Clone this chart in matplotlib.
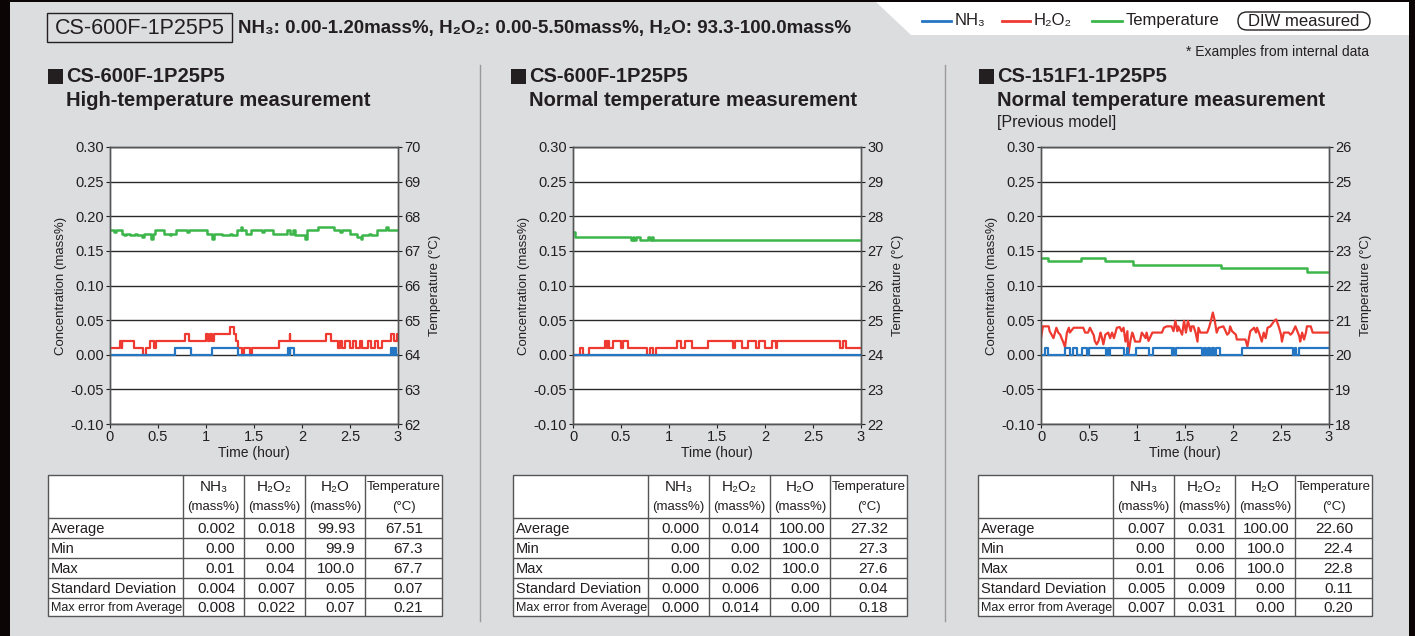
import matplotlib
matplotlib.use("Agg")
import matplotlib.pyplot as plt
from matplotlib.patches import Rectangle, FancyBboxPatch, Polygon
from matplotlib.lines import Line2D

plt.rcParams['font.family'] = ['Liberation Sans', 'DejaVu Sans']

W, H = 1415, 636

# ---------------- data ----------------
TITLES = ["CS-600F-1P25P5", "CS-600F-1P25P5", "CS-151F1-1P25P5"]
SUBTITLES = ["High-temperature measurement", "Normal temperature measurement",
             "Normal temperature measurement"]
NOTES = ["", "", "[Previous model]"]
TEMP_RANGES = [(62, 70), (22, 30), (18, 26)]
CONC_TICKS = [-0.10, -0.05, 0.00, 0.05, 0.10, 0.15, 0.20, 0.25, 0.30]
TIME_TICKS = [0, 0.5, 1, 1.5, 2, 2.5, 3]
TIME_LABELS = ["0", "0.5", "1", "1.5", "2", "2.5", "3"]

# chart 1 (high temperature)
c1_nh3_t = [0, 0.68, 0.845, 1.067, 1.33, 1.85, 1.87, 1.88, 1.92, 2.93, 2.95, 2.96, 2.98, 3.0]
c1_nh3_v = [0, 0.01, 0, 0.01, 0, 0.01, 0, 0.01, 0, 0.01, 0, 0.01, 0, 0]
c1_h2o2_t = [0, 0.10, 0.12, 0.13, 0.25, 0.34, 0.37, 0.42, 0.46, 0.48, 0.78, 0.82, 1.00, 1.02,
             1.04, 1.06, 1.08, 1.25, 1.29, 1.31, 1.33, 1.38, 1.40, 1.46, 1.48, 1.76, 1.87,
             1.88, 2.25, 2.30, 2.38, 2.40, 2.42, 2.45, 2.50, 2.53, 2.56, 2.60, 2.63, 2.69,
             2.72, 2.76, 2.79, 2.83, 2.93, 2.96, 2.99, 3.0]
c1_h2o2_v = [0.01, 0.02, 0.01, 0.02, 0.01, 0, 0.01, 0.02, 0.01, 0.02, 0.03, 0.02, 0.03, 0.02,
             0.03, 0.02, 0.03, 0.04, 0.03, 0.02, 0.01, 0, 0.01, 0, 0.01, 0.02, 0.03,
             0.02, 0.03, 0.02, 0.01, 0.02, 0.01, 0.02, 0.01, 0.02, 0.01, 0.02, 0.01, 0.02,
             0.01, 0.02, 0.01, 0.02, 0.03, 0.02, 0.03, 0.03]
c1_temp_t = [0, 0.04, 0.06, 0.12, 0.15, 0.17, 0.21, 0.26, 0.28, 0.33, 0.35, 0.43, 0.45, 0.47,
             0.56, 0.62, 0.64, 0.69, 0.80, 0.82, 1.01, 1.06, 1.08, 1.17, 1.25, 1.27, 1.32,
             1.36, 1.38, 1.42, 1.47, 1.58, 1.60, 1.70, 1.84, 1.87, 1.91, 1.93, 2.03, 2.05,
             2.17, 2.33, 2.40, 2.42, 2.50, 2.57, 2.61, 2.63, 2.70, 2.72, 2.78, 2.87, 2.90, 3.0]
c1_temp_v = [67.6, 67.55, 67.6, 67.5, 67.45, 67.5, 67.45, 67.5, 67.45, 67.4, 67.5, 67.35, 67.5,
             67.6, 67.5, 67.45, 67.5, 67.6, 67.55, 67.6, 67.5, 67.35, 67.5, 67.45, 67.5, 67.45,
             67.6, 67.7, 67.6, 67.5, 67.6, 67.55, 67.6, 67.5, 67.6, 67.5, 67.6, 67.45, 67.35,
             67.6, 67.7, 67.6, 67.55, 67.6, 67.5, 67.4, 67.35, 67.45, 67.5, 67.45, 67.6, 67.7,
             67.6, 67.6]

# chart 2 (normal temperature)
c2_nh3_t = [0, 3.0]
c2_nh3_v = [0, 0]
c2_h2o2_t = [0, 0.07, 0.10, 0.17, 0.33, 0.35, 0.36, 0.38, 0.42, 0.50, 0.52, 0.57, 0.77, 0.80,
             0.83, 0.86, 1.08, 1.12, 1.17, 1.24, 1.41, 1.67, 1.69, 1.76, 1.82, 1.91, 1.94,
             2.00, 2.07, 2.11, 2.12, 2.78, 2.81, 2.84, 3.0]
c2_h2o2_v = [0, 0.01, 0, 0.01, 0.02, 0.01, 0.02, 0.01, 0.02, 0.01, 0.02, 0.01, 0, 0.01,
             0, 0.01, 0.02, 0.01, 0.02, 0.01, 0.02, 0.01, 0.02, 0.01, 0.02, 0.01, 0.02,
             0.01, 0.02, 0.01, 0.02, 0.01, 0.02, 0.01, 0.01]
c2_temp_t = [0, 0.02, 0.60, 0.62, 0.64, 0.66, 0.70, 0.78, 0.80, 0.82, 0.83, 3.0]
c2_temp_v = [27.55, 27.4, 27.3, 27.4, 27.3, 27.4, 27.3, 27.4, 27.3, 27.4, 27.3, 27.3]

# chart 3 (previous model)
c3_nh3_t = [0, 0.04, 0.07, 0.25, 0.30, 0.33, 0.37, 0.43, 0.48, 0.50, 0.68, 0.70, 0.71, 0.72,
            0.86, 0.90, 0.91, 0.99, 1.12, 1.17, 1.36, 1.38, 1.39, 1.41, 1.68, 1.70, 1.72,
            1.74, 1.76, 1.78, 1.80, 1.82, 1.86, 2.09, 2.62, 2.65, 2.66, 2.69, 3.0]
c3_nh3_v = [0, 0.01, 0, 0.01, 0, 0.01, 0, 0.01, 0, 0.01, 0, 0.01, 0, 0.01,
            0, 0.01, 0, 0.01, 0, 0.01, 0, 0.01, 0, 0.01, 0, 0.01, 0,
            0.01, 0, 0.01, 0, 0.01, 0, 0.01, 0, 0.01, 0, 0.01, 0.01]
c3_h2o2_t = [0.00, 0.02, 0.08, 0.09, 0.13, 0.15, 0.16, 0.18, 0.20, 0.22, 0.23, 0.25, 0.27, 0.29,
             0.30, 0.34, 0.44, 0.46, 0.49, 0.51, 0.55, 0.56, 0.58, 0.60, 0.62, 0.63, 0.65, 0.67,
             0.70, 0.72, 0.74, 0.76, 0.79, 0.82, 0.84, 0.86, 0.88, 0.90, 0.91, 0.93, 0.95, 0.96,
             0.98, 1.03, 1.05, 1.09, 1.10, 1.12, 1.16, 1.26, 1.28, 1.31, 1.36, 1.38, 1.40, 1.42,
             1.43, 1.47, 1.49, 1.51, 1.53, 1.56, 1.57, 1.59, 1.61, 1.63, 1.64, 1.66, 1.73, 1.75,
             1.77, 1.79, 1.81, 1.83, 1.85, 1.90, 1.94, 1.96, 1.97, 1.99, 2.03, 2.04, 2.13, 2.15,
             2.18, 2.22, 2.24, 2.25, 2.27, 2.30, 2.32, 2.34, 2.36, 2.39, 2.43, 2.45, 2.48, 2.50,
             2.51, 2.53, 2.58, 2.60, 2.62, 2.65, 2.67, 2.69, 2.70, 2.72, 2.74, 2.76, 2.77, 2.81,
             2.83, 3.00]
c3_h2o2_v = [0.024, 0.041, 0.041, 0.034, 0.024, 0.034, 0.039, 0.032, 0.029, 0.022, 0.019, 0.011,
             0.032, 0.039, 0.032, 0.039, 0.039, 0.032, 0.032, 0.039, 0.028, 0.020, 0.015, 0.020,
             0.032, 0.027, 0.015, 0.029, 0.032, 0.024, 0.032, 0.024, 0.039, 0.040, 0.034, 0.039,
             0.019, 0.034, 0.000, 0.019, 0.032, 0.029, 0.019, 0.019, 0.032, 0.024, 0.032, 0.020,
             0.032, 0.032, 0.039, 0.041, 0.041, 0.034, 0.049, 0.034, 0.041, 0.029, 0.049, 0.032,
             0.049, 0.034, 0.041, 0.041, 0.032, 0.019, 0.039, 0.032, 0.032, 0.039, 0.049, 0.061,
             0.049, 0.032, 0.039, 0.041, 0.029, 0.032, 0.041, 0.034, 0.029, 0.022, 0.022, 0.012,
             0.034, 0.039, 0.032, 0.039, 0.032, 0.019, 0.032, 0.024, 0.039, 0.041, 0.049, 0.051,
             0.039, 0.029, 0.019, 0.032, 0.032, 0.029, 0.032, 0.041, 0.034, 0.027, 0.019, 0.032,
             0.022, 0.032, 0.041, 0.041, 0.032, 0.032]
c3_temp_t = [0, 0.07, 0.42, 0.67, 0.96, 1.87, 2.77, 3.0]
c3_temp_v = [22.8, 22.7, 22.8, 22.7, 22.6, 22.5, 22.4, 22.4]

SERIES = [
    (c1_nh3_t, c1_nh3_v, c1_h2o2_t, c1_h2o2_v, c1_temp_t, c1_temp_v, "steps-post"),
    (c2_nh3_t, c2_nh3_v, c2_h2o2_t, c2_h2o2_v, c2_temp_t, c2_temp_v, "steps-post"),
    (c3_nh3_t, c3_nh3_v, c3_h2o2_t, c3_h2o2_v, c3_temp_t, c3_temp_v, "default"),
]

# table data
ROW_LABELS = ["Average", "Min", "Max", "Standard Deviation", "Max error from Average"]
TABLE_1 = [["0.002", "0.018", "99.93", "67.51"],
           ["0.00", "0.00", "99.9", "67.3"],
           ["0.01", "0.04", "100.0", "67.7"],
           ["0.004", "0.007", "0.05", "0.07"],
           ["0.008", "0.022", "0.07", "0.21"]]
TABLE_2 = [["0.000", "0.014", "100.00", "27.32"],
           ["0.00", "0.00", "100.0", "27.3"],
           ["0.00", "0.02", "100.0", "27.6"],
           ["0.000", "0.006", "0.00", "0.04"],
           ["0.000", "0.014", "0.00", "0.18"]]
TABLE_3 = [["0.007", "0.031", "100.00", "22.60"],
           ["0.00", "0.00", "100.0", "22.4"],
           ["0.01", "0.06", "100.0", "22.8"],
           ["0.005", "0.009", "0.00", "0.11"],
           ["0.007", "0.031", "0.00", "0.20"]]
TABLES = [TABLE_1, TABLE_2, TABLE_3]
HEAD_TOP = ["NH\u2083", "H\u2082O\u2082", "H\u2082O", "Temperature"]
HEAD_BOT = ["(mass%)", "(mass%)", "(mass%)", "(\u00b0C)"]

BLUE = "#2576c3"
RED = "#ee3a30"
GREEN = "#3cb54a"
BG = "#dcdddf"
DARK = "#231f20"
NARROW = ["Liberation Sans Narrow", "Liberation Sans"]


def P(x, y):
    """pixel (from top-left) -> figure fraction"""
    return x / W, 1 - y / H


def ftext(x, y, s, **kw):
    fx, fy = P(x, y)
    kw.setdefault("color", DARK)
    return fig.text(fx, fy, s, **kw)


fig = plt.figure(figsize=(W / 100, H / 100), dpi=100)
fig.patch.set_facecolor("#0c0506")

# background panel
bg = fig.add_axes([0, 0, 1, 1])
bg.set_xlim(0, W)
bg.set_ylim(H, 0)
bg.axis("off")
bg.add_patch(Rectangle((10, 2), 1399, 640, facecolor=BG, edgecolor="none"))
bg.add_patch(Polygon([(876, 2), (1409, 2), (1409, 35), (911, 35)], closed=True,
                     facecolor="white", edgecolor="none"))
for sx in (480, 945):
    bg.add_line(Line2D([sx, sx], [65, 621], color="#9a9a9c", lw=1))

# header
bg.add_patch(Rectangle((47, 13), 185, 29, facecolor="none", edgecolor=DARK, lw=1))
ftext(140, 28, "CS-600F-1P25P5", fontsize=15.5, ha="center", va="center")
ftext(238, 29, "NH\u2083: 0.00-1.20mass%, H\u2082O\u2082: 0.00-5.50mass%, H\u2082O: 93.3-100.0mass%",
      fontsize=13.5, fontweight="bold", ha="left", va="center")

# legend on the top right
for (x0, x1, c, lab) in [(922, 951, BLUE, "NH\u2083"), (1002, 1030, RED, "H\u2082O\u2082"),
                         (1092, 1122, GREEN, "Temperature")]:
    bg.add_line(Line2D([x0, x1], [20.5, 20.5], color=c, lw=2))
    ftext(x1 + 4, 21, lab, fontsize=12, ha="left", va="center")
bg.add_patch(FancyBboxPatch((1238, 12), 132, 18, boxstyle="round,pad=0,rounding_size=9",
                            facecolor="white", edgecolor=DARK, lw=1))
ftext(1304, 21.5, "DIW measured", fontsize=12, ha="center", va="center")
ftext(1369, 52, "* Examples from internal data", fontsize=10, ha="right", va="center")

AX_LEFT = [110, 573, 1041]
TB_LEFT = [48, 513, 978]
AX_TOP, AX_W, AX_H = 147, 288, 277
TB_TOP, TB_W, TB_H = 475, 394, 141
COL_EDGES = [0, 135, 196, 257, 317, 394]
ROW_EDGES = [0, 43, 63, 83, 103, 123, 141]
VAL_PAD = [9, 10, 10, 19]

for i in range(3):
    axl = AX_LEFT[i]
    # titles
    bg.add_patch(Rectangle((axl - 62, 69), 15, 15, facecolor=DARK, edgecolor="none"))
    ftext(axl - 44, 76, TITLES[i], fontsize=14.5, fontweight="bold", ha="left", va="center")
    ftext(axl - 44, 100, SUBTITLES[i], fontsize=14.5, fontweight="bold", ha="left", va="center")
    if NOTES[i]:
        ftext(axl - 44, 122, NOTES[i], fontsize=11.5, ha="left", va="center")

    # chart
    fx, fy = P(axl, AX_TOP + AX_H)
    ax = fig.add_axes([fx, fy, AX_W / W, AX_H / H])
    ax.set_facecolor("white")
    nt, nv, ht, hv, tt, tv, ds = SERIES[i]
    ax.set_xlim(0, 3)
    ax.set_ylim(-0.10, 0.30)
    ax.set_yticks(CONC_TICKS)
    ax.set_yticklabels([f"{v:.2f}" for v in CONC_TICKS])
    ax.set_xticks(TIME_TICKS)
    ax.set_xticklabels(TIME_LABELS)
    ax.grid(axis="y", color="#2a2a2a", lw=1)
    ax.set_axisbelow(True)
    ax.plot(ht, hv, color=RED, lw=1.6, drawstyle=ds, zorder=3)
    ax.plot(nt, nv, color=BLUE, lw=1.6, drawstyle="steps-post", zorder=4)
    ax.set_ylabel("Concentration (mass%)", fontsize=9.5, color=DARK, labelpad=2)
    ax.set_xlabel("Time (hour)", fontsize=10, color=DARK, labelpad=1)
    ax.tick_params(labelsize=10.5, colors=DARK, length=3, width=0.8, pad=1.5)
    for sp in ax.spines.values():
        sp.set_color("#555555")
        sp.set_linewidth(1)

    ax2 = ax.twinx()
    lo, hi = TEMP_RANGES[i]
    ax2.set_ylim(lo, hi)
    ax2.set_yticks(range(lo, hi + 1))
    ax2.plot(tt, tv, color=GREEN, lw=1.8, drawstyle="steps-post")
    ax2.set_ylabel("Temperature (\u00b0C)", fontsize=9.5, color=DARK, labelpad=6)
    ax2.tick_params(labelsize=10.5, colors=DARK, length=3, width=0.8, pad=1.5)
    for sp in ax2.spines.values():
        sp.set_color("#555555")
        sp.set_linewidth(1)

    # table
    tl = TB_LEFT[i]
    fx, fy = P(tl, TB_TOP + TB_H)
    tax = fig.add_axes([fx, fy, TB_W / W, TB_H / H])
    tax.set_xlim(0, TB_W)
    tax.set_ylim(TB_H, 0)
    tax.axis("off")
    tax.add_patch(Rectangle((0, 0), TB_W, TB_H, facecolor="white", edgecolor="#555555",
                            lw=1, clip_on=False))
    for ce in COL_EDGES[1:-1]:
        tax.add_line(Line2D([ce, ce], [0, TB_H], color="#555555", lw=1))
    for re_ in ROW_EDGES[1:-1]:
        tax.add_line(Line2D([0, TB_W], [re_, re_], color="#555555", lw=1))
    for c in range(4):
        cx = (COL_EDGES[c + 1] + COL_EDGES[c + 2]) / 2
        if c == 3:
            tax.text(cx, 12, HEAD_TOP[c], fontsize=9.5, ha="center", va="center",
                     color=DARK, family=NARROW)
            tax.text(cx, 32, HEAD_BOT[c], fontsize=9.5, ha="center", va="center",
                     color=DARK, family=NARROW)
        else:
            tax.text(cx, 12, HEAD_TOP[c], fontsize=11, ha="center", va="center",
                     color=DARK, family=["Liberation Sans", "DejaVu Sans"])
            tax.text(cx, 32, HEAD_BOT[c], fontsize=9.5, ha="center", va="center", color=DARK)
    data = TABLES[i]
    for r in range(5):
        cy = (ROW_EDGES[r + 1] + ROW_EDGES[r + 2]) / 2
        if r == 4:
            tax.text(3, cy + 1, ROW_LABELS[r], fontsize=9, ha="left", va="center", color=DARK,
                     family=NARROW)
        else:
            tax.text(3, cy + 1, ROW_LABELS[r], fontsize=10.5, ha="left", va="center", color=DARK)
        for c in range(4):
            s = data[r][c]
            pad = 5 if len(s) >= 6 else VAL_PAD[c]
            tax.text(COL_EDGES[c + 2] - pad, cy + 1, s, fontsize=11,
                     ha="right", va="center", color=DARK)

fig.savefig("out.png", dpi=100, facecolor=fig.get_facecolor())
